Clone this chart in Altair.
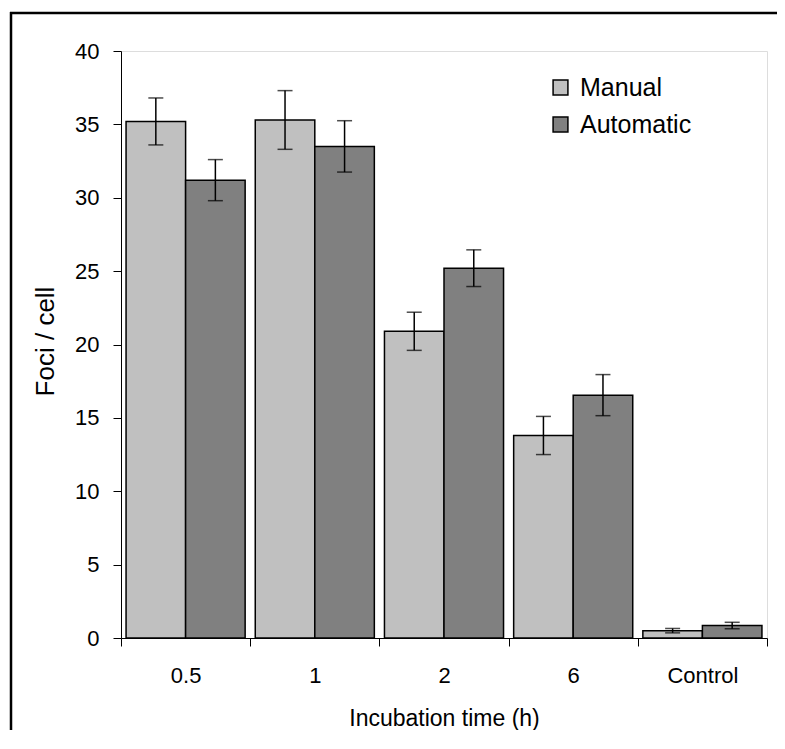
import altair as alt
import pandas as pd

categories = ["0.5", "1", "2", "6", "Control"]
methods = ["Manual", "Automatic"]
manual = [35.2, 35.3, 20.9, 13.8, 0.5]
manual_err = [1.6, 2.0, 1.3, 1.3, 0.15]
automatic = [31.2, 33.5, 25.2, 16.55, 0.85]
automatic_err = [1.4, 1.75, 1.25, 1.4, 0.22]
colors = ["#c0c0c0", "#808080"]

rows = []
for i, c in enumerate(categories):
    rows.append({"category": c, "method": "Manual", "value": manual[i], "err": manual_err[i]})
    rows.append({"category": c, "method": "Automatic", "value": automatic[i], "err": automatic_err[i]})
df = pd.DataFrame(rows)
df["lo"] = df["value"] - df["err"]
df["hi"] = df["value"] + df["err"]

FONT = "Liberation Sans"

x_enc = alt.X(
    "category:N",
    sort=categories,
    scale=alt.Scale(paddingInner=0, paddingOuter=0),
    axis=alt.Axis(
        title="Incubation time (h)",
        labelAngle=0,
        tickBand="extent",
        tickSize=8,
        tickColor="black",
        domainColor="black",
        labelPadding=29,
        labelBaseline="middle",
        labelFontSize=22,
        labelColor="black",
        titleFontSize=23,
        titleFontWeight="normal",
        titleColor="black",
        titleY=80,
        titleBaseline="middle",
    ),
)
xoff = alt.XOffset("method:N", sort=methods, scale=alt.Scale(paddingInner=0, paddingOuter=0.085))

base = alt.Chart(df)

bars = base.mark_bar(stroke="black", strokeWidth=1.5).encode(
    x=x_enc,
    xOffset=xoff,
    y=alt.Y(
        "value:Q",
        scale=alt.Scale(domain=[0, 40], nice=False),
        axis=alt.Axis(
            title="Foci / cell",
            values=[0, 5, 10, 15, 20, 25, 30, 35, 40],
            grid=False,
            tickSize=8,
            tickColor="black",
            domainColor="black",
            labelPadding=14,
            labelFontSize=22,
            labelColor="black",
            titleFontSize=26,
            titleFontWeight="normal",
            titleColor="black",
            titleX=-76,
            titleY=290,
            titleBaseline="middle",
        ),
    ),
    fill=alt.Fill(
        "method:N",
        sort=methods,
        scale=alt.Scale(domain=methods, range=colors),
        legend=alt.Legend(
            title=None,
            orient="none",
            legendX=427,
            legendY=24,
            symbolType="square",
            symbolSize=220,
            symbolStrokeColor="black",
            symbolStrokeWidth=1.5,
            symbolOpacity=1,
            labelFontSize=25,
            labelFont=FONT,
            labelColor="black",
            labelOffset=7,
            rowPadding=11,
        ),
    ),
)

rules = base.mark_rule(color="black", strokeWidth=1.5).encode(
    x=alt.X("category:N", sort=categories),
    xOffset=xoff,
    y="lo:Q",
    y2="hi:Q",
)
cap_lo = base.mark_tick(color="black", thickness=1.5, size=15).encode(
    x=alt.X("category:N", sort=categories), xOffset=xoff, y="lo:Q"
)
cap_hi = base.mark_tick(color="black", thickness=1.5, size=15).encode(
    x=alt.X("category:N", sort=categories), xOffset=xoff, y="hi:Q"
)

frame = alt.Data(values=[{}])
border_top = alt.Chart(frame).mark_rule(color="black", strokeWidth=2.5).encode(
    x=alt.value(-111), x2=alt.value(700), y=alt.value(-38)
)
border_left = alt.Chart(frame).mark_rule(color="black", strokeWidth=2.5).encode(
    x=alt.value(-110), y=alt.value(-39), y2=alt.value(800)
)

chart = alt.layer(border_top, border_left, bars, rules, cap_lo, cap_hi).properties(
    width=646,
    height=587,
    autosize=alt.AutoSizeParams(type="none"),
    padding={"left": 113, "top": 43, "right": 10, "bottom": 92},
).configure_view(stroke=None).configure_axis(
    labelFont=FONT, titleFont=FONT
).configure(background="white")

chart.save("out.html", embed_options={"renderer": "svg", "actions": False})
